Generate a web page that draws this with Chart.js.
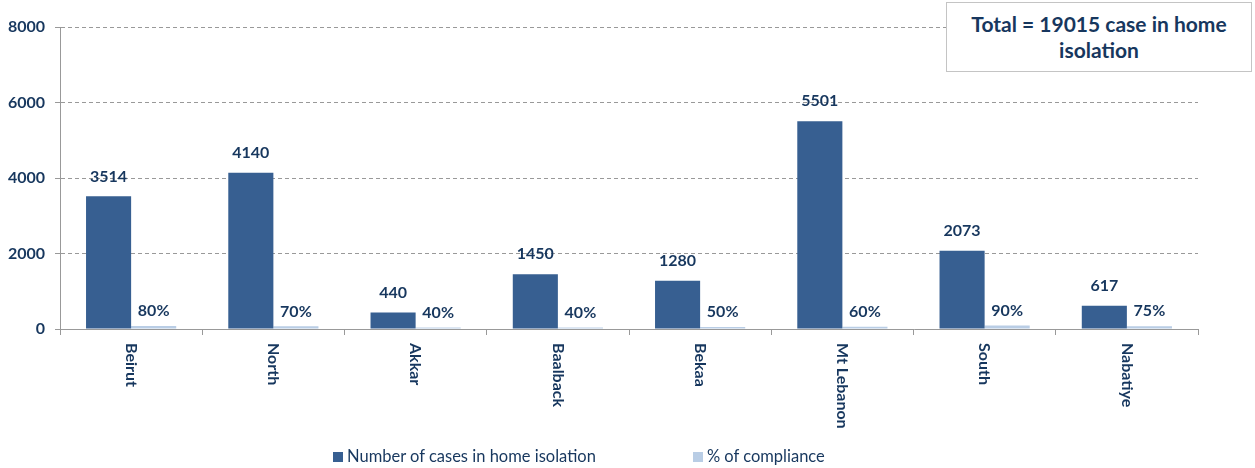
<!DOCTYPE html>
<html>
<head>
<meta charset="utf-8">
<script src="https://cdn.jsdelivr.net/npm/chart.js@4/dist/chart.umd.min.js"></script>
<style>
  body { margin: 0; background: #fff; }
  #wrap { position: relative; width: 1255px; height: 468px; }
  #totalBox {
    position: absolute; left: 946px; top: 2px; width: 306px; height: 70px;
    border: 1px solid #c4c4c4; background: #fff;
    font: bold 21px Lato, sans-serif; color: #17375e;
    text-align: center; line-height: 26px; padding-top: 8px; box-sizing: border-box;
  }
  #legend {
    position: absolute; top: 446px; left: 333px;
    display: flex; gap: 97px;
    font: 16.5px Lato, sans-serif; color: #17375e;
  }
  #legend span.box { display: inline-block; width: 10px; height: 10px; margin-right: 4px; }
</style>
</head>
<body>
<div id="wrap">
  <canvas id="isolationChart" width="1255" height="468"></canvas>
  <div id="totalBox">Total = 19015 case in home<br>isolation</div>
  <div id="legend"></div>
</div>
<script>
// Home isolation cases by region
const categories = ['Beirut', 'North', 'Akkar', 'Baalback', 'Bekaa', 'Mt Lebanon', 'South', 'Nabatiye'];
const cases = [3514, 4140, 440, 1450, 1280, 5501, 2073, 617];
const compliance = [80, 70, 40, 40, 50, 60, 90, 75];
const yTicks = [0, 2000, 4000, 6000, 8000];

const navy = '#17375e';
const darkBlue = '#375f91';
const lightBlue = '#b9cde5';

// value labels above bars + vertical category labels
const labelPlugin = {
    id: 'labels',
    afterDatasetsDraw(chart) {
        const ctx = chart.ctx;
        ctx.save();
        ctx.fillStyle = navy;
        ctx.font = 'bold 16px Lato';
        ctx.textAlign = 'center';
        ctx.textBaseline = 'middle';
        chart.getDatasetMeta(0).data.forEach((bar, i) => {
            ctx.fillText(String(cases[i]), bar.x, bar.y - 20);
        });
        chart.getDatasetMeta(1).data.forEach((bar, i) => {
            ctx.fillText(compliance[i] + '%', bar.x, bar.y - 15);
        });

        const xs = chart.scales.x;
        ctx.font = 'bold 16px Lato';
        ctx.textAlign = 'left';
        categories.forEach((c, i) => {
            ctx.save();
            ctx.translate(xs.getPixelForValue(i), chart.chartArea.bottom + 14);
            ctx.rotate(Math.PI / 2);
            ctx.fillText(c, 0, 0);
            ctx.restore();
        });
        ctx.restore();
    }
};

const chart = new Chart(document.getElementById('isolationChart'), {
    type: 'bar',
    data: {
        labels: categories,
        datasets: [
            { label: 'Number of cases in home isolation', data: cases, backgroundColor: darkBlue },
            { label: '% of compliance', data: compliance, backgroundColor: lightBlue }
        ]
    },
    options: {
        responsive: false,
        animation: false,
        layout: { padding: { top: 27, right: 57, left: 0, bottom: 0 } },
        plugins: { legend: { display: false }, tooltip: { enabled: false } },
        datasets: { bar: { categoryPercentage: 0.634, barPercentage: 1 } },
        scales: {
            x: {
                grid: { offset: true, drawOnChartArea: false, drawTicks: true, tickLength: 6, color: '#999' },
                border: { color: '#999' },
                ticks: { display: false },
                afterFit: (s) => { s.height = 139; }
            },
            y: {
                min: 0, max: 8000,
                afterBuildTicks: (s) => { s.ticks = yTicks.map(v => ({ value: v })); },
                grid: { color: '#999', tickLength: 5 },
                border: { color: '#999', dash: [4, 3] },
                ticks: {
                    color: navy, font: { family: 'Lato', weight: 'bold', size: 16 }, padding: 10,
                    callback: (v) => String(v)
                },
                afterFit: (s) => { s.width = 60; }
            }
        }
    },
    plugins: [labelPlugin]
});

// legend built from the datasets
const legend = document.getElementById('legend');
chart.data.datasets.forEach(ds => {
    const item = document.createElement('div');
    item.innerHTML = '<span class="box" style="background:' + ds.backgroundColor + '"></span>' + ds.label;
    legend.appendChild(item);
});
</script>
</body>
</html>
